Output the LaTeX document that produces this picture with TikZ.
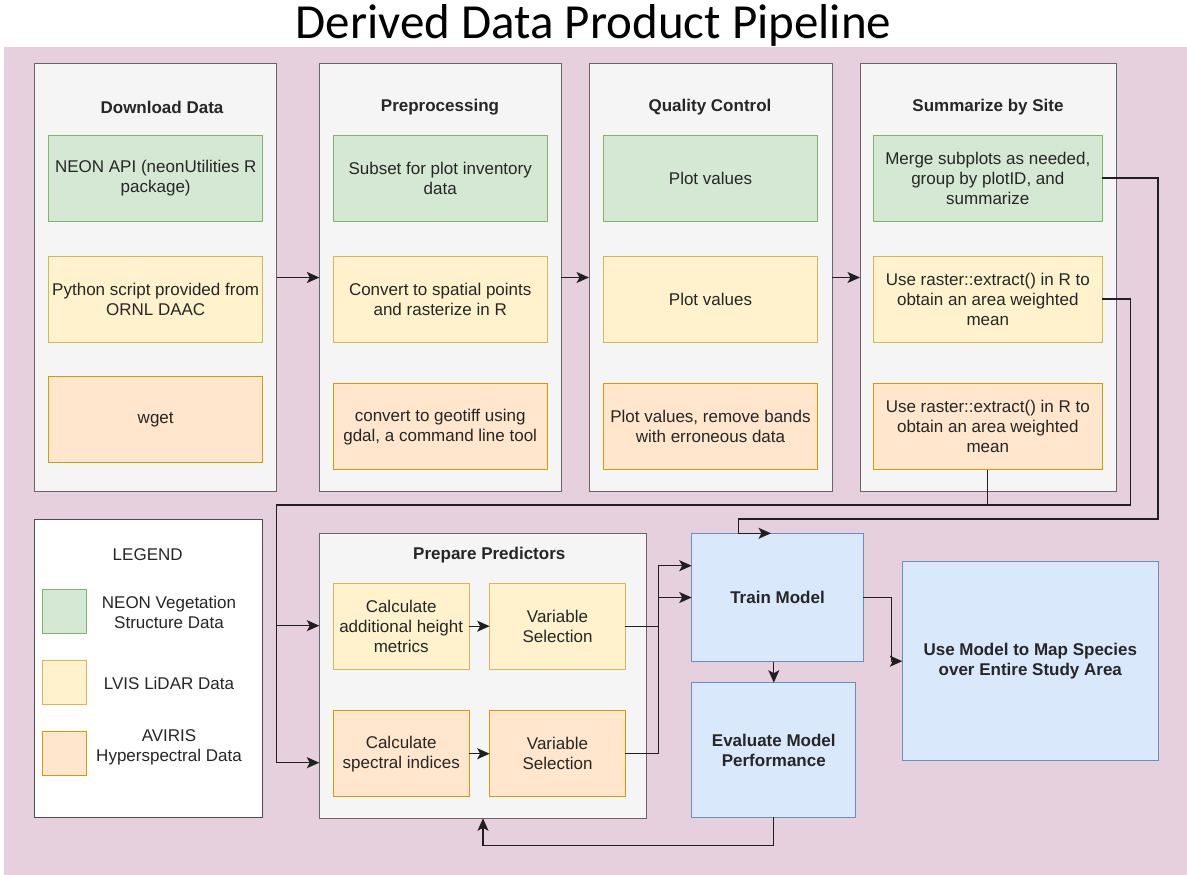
\documentclass[tikz,border=0pt]{standalone}
\usepackage{fontspec}
\setmainfont{Liberation Sans}
\newfontfamily\titlefont{Carlito}
\usetikzlibrary{arrows.meta}

\definecolor{bgpink}{HTML}{E6D0DE}
\definecolor{grpfill}{HTML}{F5F5F5}
\definecolor{grpline}{HTML}{666666}
\definecolor{neonfill}{HTML}{D5E8D4}
\definecolor{neonline}{HTML}{82B366}
\definecolor{lvisfill}{HTML}{FFF2CC}
\definecolor{lvisline}{HTML}{D6B656}
\definecolor{avirisfill}{HTML}{FFE6CC}
\definecolor{avirisline}{HTML}{D79B00}
\definecolor{modelfill}{HTML}{DAE8FC}
\definecolor{modelline}{HTML}{6C8EBF}
\definecolor{legline}{HTML}{4D4D4D}
\definecolor{txt}{HTML}{262626}
\definecolor{lnk}{HTML}{1F1F1F}

\begin{document}
\begin{tikzpicture}[
    x=1pt, y=-1pt,
    every node/.style={text=txt, font=\fontsize{17}{20}\selectfont, align=center, inner sep=0pt, outer sep=0pt},
    group/.style={draw=grpline, fill=grpfill, line width=1pt},
    box/.style={draw, line width=1pt, minimum width=214pt, minimum height=86pt},
    neon/.style={box, draw=neonline, fill=neonfill},
    lvis/.style={box, draw=lvisline, fill=lvisfill},
    aviris/.style={box, draw=avirisline, fill=avirisfill},
    model/.style={draw=modelline, fill=modelfill, line width=1pt, font=\bfseries\fontsize{17}{20}\selectfont},
    heading/.style={font=\bfseries\fontsize{17}{20}\selectfont},
    legsq/.style={line width=1pt, minimum width=44pt, minimum height=43.5pt},
    link/.style={draw=lnk, line width=1.3pt, -{Stealth[length=12.5pt,width=11pt,inset=3pt]}}
]
\useasboundingbox (0,0) rectangle (1187,875);
\fill[bgpink] (3.8,46.7) rectangle (1187,875);

\node[font=\titlefont\fontsize{49}{58}\selectfont, text=black, anchor=base] (title) at (593.5,38.7) {Derived Data Product Pipeline};

% top row
\node[group, minimum width=242pt, minimum height=427pt] (dl) at (155.5,277.5) {};
\node[group, minimum width=241.7pt, minimum height=427pt] (pre) at (440.2,277.5) {};
\node[group, minimum width=243pt, minimum height=427pt] (qc) at (710.5,277.5) {};
\node[group, minimum width=256pt, minimum height=427pt] (sum) at (988,277.5) {};

\node[heading] (dlT) at (162,107) {Download Data};
\node[heading] (preT) at (440,107) {Preprocessing};
\node[heading] (qcT) at (710,107) {Quality Control};
\node[heading] (sumT) at (988,107) {Summarize by Site};

\node[neon] (dlG) at (155.7,178) {NEON API (neonUtilities R\\package)};
\node[lvis] (dlY) at (155.7,299) {Python script provided from\\ORNL DAAC};
\node[aviris] (dlO) at (155.7,419.7) {wget};

\node[neon] (preG) at (440.2,178) {Subset for plot inventory\\data};
\node[lvis] (preY) at (440.2,299) {Convert to spatial points\\and rasterize in R};
\node[aviris] (preO) at (440.2,426.8) {convert to geotiff using\\gdal, a command line tool};

\node[neon] (qcG) at (710.5,178) {Plot values};
\node[lvis] (qcY) at (710.5,299) {Plot values};
\node[aviris] (qcO) at (710.5,426.8) {Plot values, remove bands\\with erroneous data};

\node[neon, minimum width=228.5pt] (sumG) at (987.8,178) {Merge subplots as needed,\\group by plotID, and\\summarize};
\node[lvis, minimum width=228.5pt] (sumY) at (987.8,299) {Use raster::extract() in R to\\obtain an area weighted\\mean};
\node[aviris, minimum width=228.5pt] (sumO) at (987.8,426.8) {Use raster::extract() in R to\\obtain an area weighted\\mean};

% legend
\node[draw=legline, fill=white, line width=1pt, minimum width=228pt, minimum height=298.3pt] (legend) at (148.3,668.2) {};
\node (legT) at (147.7,555) {LEGEND};
\node[legsq, draw=neonline, fill=neonfill] (keyG) at (64.7,611.7) {};
\node[legsq, draw=lvisline, fill=lvisfill] (keyY) at (64.7,682.7) {};
\node[legsq, draw=avirisline, fill=avirisfill] (keyO) at (64.7,753.7) {};
\node (keyGt) at (169,612.3) {NEON Vegetation\\Structure Data};
\node (keyYt) at (169,683.3) {LVIS LiDAR Data};
\node (keyOt) at (169,747.7) {AVIRIS\\Hyperspectral Data};

% prepare predictors
\node[group, minimum width=327.4pt, minimum height=285pt] (prep) at (483,675.8) {};
\node[heading] (prepT) at (489.3,555) {Prepare Predictors};
\node[lvis, minimum width=135.7pt, minimum height=85.7pt] (calcH) at (401.2,626.2) {Calculate\\additional height\\metrics};
\node[lvis, minimum width=135.7pt, minimum height=85.7pt] (varH) at (557.5,626.2) {Variable\\Selection};
\node[aviris, minimum width=135.7pt, minimum height=85.7pt] (calcS) at (401.2,753.7) {Calculate\\spectral indices};
\node[aviris, minimum width=135.7pt, minimum height=85.7pt] (varS) at (557.5,753.7) {Variable\\Selection};

% model
\node[model, minimum width=171.6pt, minimum height=128.4pt] (train) at (777.5,597.5) {Train Model};
\node[model, minimum width=164.3pt, minimum height=134.6pt] (eval) at (773.8,750) {Evaluate Model\\Performance};
\node[model, minimum width=256pt, minimum height=199pt] (usemap) at (1030.3,661.2) {Use Model to Map Species\\over Entire Study Area};

% connectors
\draw[link] (dl) -- (pre);
\draw[link] (pre) -- (qc);
\draw[link] (qc) -- (sum);
\draw[link] (calcH) -- (varH);
\draw[link] (calcS) -- (varS);
\draw[link] (varH.east) -- ++(33.3,0) |- (train.west);
\draw[link] (varS.east) -- ++(33.3,0) |- ([yshift=31.8pt]train.west);
\draw[link] (train.east) -- ++(28.4,0) |- (usemap.west);
\draw[link] (train.south -| eval.north) -- (eval.north);
\draw[link] (eval.south) -- ++(0,28.5) -| (prep.south);
\draw[link] (sumG.east) -| (1158,519) -| ([xshift=-39.2pt]train.north) -- ([xshift=-6.5pt]train.north);
\coordinate (jn) at (276.7,505);
\draw[link] (sumY.east) -| (1130.6,505) -- (jn) |- ([yshift=-86.9pt]prep.west);
\draw[link] (sumO.south) |- (jn) |- ([yshift=50.1pt]prep.west);
\end{tikzpicture}
\end{document}
